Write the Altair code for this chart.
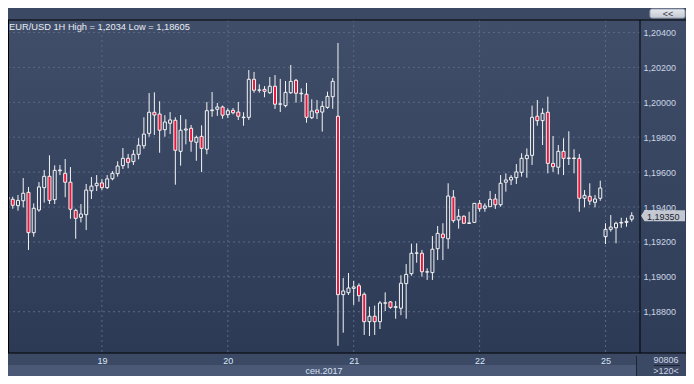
import altair as alt
import pandas as pd

# ---- data (EUR/USD, 1H candles, 18.09.2017 06:00 .. 25.09.2017 05:00) ----
opens = [1.19457, 1.19444, 1.19408, 1.19436, 1.19484, 1.19253, 1.19383, 1.19511, 1.19576, 1.19442,
         1.19608, 1.19593, 1.19542, 1.19381, 1.19341, 1.19356, 1.19493, 1.19522, 1.19538, 1.19511,
         1.19562, 1.19591, 1.19637, 1.19679, 1.19660, 1.19702, 1.19751, 1.19822, 1.19943, 1.19933,
         1.19843, 1.19880, 1.19897, 1.19719, 1.19841, 1.19851, 1.19771, 1.19805, 1.19731, 1.19952,
         1.19960, 1.19973, 1.19929, 1.19954, 1.19944, 1.19912, 1.19914, 1.20132, 1.20069, 1.20074,
         1.20055, 1.20092, 1.19989, 1.19981, 1.20055, 1.20126, 1.20052, 1.20046, 1.19912, 1.19956,
         1.19944, 1.19971, 1.20032, 1.19920, 1.18898, 1.18909, 1.18934, 1.18949, 1.18900, 1.18743,
         1.18774, 1.18743, 1.18849, 1.18856, 1.18825, 1.18820, 1.18961, 1.19018, 1.19135, 1.19135,
         1.19029, 1.19024, 1.19161, 1.19245, 1.19218, 1.19457, 1.19326, 1.19347, 1.19306, 1.19312,
         1.19421, 1.19393, 1.19402, 1.19446, 1.19413, 1.19542, 1.19555, 1.19568, 1.19599, 1.19677,
         1.19696, 1.19920, 1.19895, 1.19943, 1.19650, 1.19628, 1.19719, 1.19678, 1.19681, 1.19679,
         1.19450, 1.19461, 1.19427, 1.19450, 1.19230, 1.19272, 1.19281, 1.19308, 1.19312, 1.19330]
highs = [1.19470, 1.19459, 1.19469, 1.19566, 1.19515, 1.19421, 1.19543, 1.19612, 1.19696, 1.19639,
         1.19641, 1.19675, 1.19629, 1.19390, 1.19417, 1.19532, 1.19572, 1.19583, 1.19561, 1.19583,
         1.19606, 1.19662, 1.19738, 1.19704, 1.19727, 1.19795, 1.19914, 1.20053, 1.20057, 1.20006,
         1.19926, 1.19944, 1.19914, 1.19927, 1.19903, 1.19870, 1.19809, 1.19868, 1.20002, 1.20059,
         1.19996, 1.19981, 1.19966, 1.19967, 1.20002, 1.19943, 1.20185, 1.20174, 1.20103, 1.20093,
         1.20145, 1.20156, 1.20134, 1.20122, 1.20214, 1.20134, 1.20080, 1.20111, 1.20017, 1.20013,
         1.20007, 1.20061, 1.20139, 1.20340, 1.18993, 1.19022, 1.18976, 1.18963, 1.18911, 1.18829,
         1.18835, 1.18861, 1.18911, 1.18861, 1.18861, 1.19009, 1.19073, 1.19190, 1.19192, 1.19154,
         1.19049, 1.19234, 1.19291, 1.19307, 1.19536, 1.19497, 1.19389, 1.19352, 1.19373, 1.19423,
         1.19440, 1.19421, 1.19492, 1.19475, 1.19583, 1.19593, 1.19583, 1.19646, 1.19708, 1.19736,
         1.19981, 1.20013, 1.19966, 1.20032, 1.19807, 1.19755, 1.19794, 1.19834, 1.19731, 1.19704,
         1.19497, 1.19536, 1.19469, 1.19551, 1.19307, 1.19354, 1.19316, 1.19339, 1.19339, 1.19370]
lows = [1.19430, 1.19390, 1.19379, 1.19398, 1.19154, 1.19230, 1.19373, 1.19425, 1.19417, 1.19417,
        1.19583, 1.19456, 1.19333, 1.19218, 1.19312, 1.19268, 1.19446, 1.19492, 1.19497, 1.19503,
        1.19553, 1.19574, 1.19618, 1.19622, 1.19641, 1.19673, 1.19734, 1.19803, 1.19813, 1.19711,
        1.19803, 1.19818, 1.19528, 1.19637, 1.19759, 1.19717, 1.19665, 1.19600, 1.19702, 1.19917,
        1.19922, 1.19906, 1.19910, 1.19931, 1.19899, 1.19866, 1.19899, 1.20055, 1.20055, 1.20029,
        1.20048, 1.19962, 1.19944, 1.19971, 1.20048, 1.19998, 1.20002, 1.19883, 1.19904, 1.19904,
        1.19832, 1.19963, 1.19963, 1.18605, 1.18680, 1.18896, 1.18839, 1.18857, 1.18667, 1.18661,
        1.18667, 1.18701, 1.18804, 1.18817, 1.18760, 1.18780, 1.18760, 1.19006, 1.19081, 1.19001,
        1.18982, 1.18982, 1.19096, 1.19096, 1.19161, 1.19310, 1.19276, 1.19303, 1.19303, 1.19308,
        1.19373, 1.19373, 1.19400, 1.19389, 1.19402, 1.19488, 1.19526, 1.19532, 1.19574, 1.19568,
        1.19641, 1.19866, 1.19755, 1.19593, 1.19600, 1.19587, 1.19583, 1.19641, 1.19593, 1.19373,
        1.19398, 1.19412, 1.19398, 1.19436, 1.19188, 1.19259, 1.19192, 1.19281, 1.19287, 1.19316]
closes = [1.19444, 1.19410, 1.19438, 1.19479, 1.19253, 1.19393, 1.19515, 1.19576, 1.19438, 1.19610,
          1.19612, 1.19542, 1.19387, 1.19335, 1.19360, 1.19497, 1.19520, 1.19536, 1.19511, 1.19561,
          1.19593, 1.19635, 1.19679, 1.19656, 1.19702, 1.19754, 1.19818, 1.19943, 1.19927, 1.19840,
          1.19887, 1.19899, 1.19725, 1.19840, 1.19847, 1.19777, 1.19799, 1.19736, 1.19952, 1.19956,
          1.19973, 1.19926, 1.19952, 1.19940, 1.19920, 1.19915, 1.20132, 1.20069, 1.20071, 1.20063,
          1.20092, 1.19989, 1.19991, 1.20057, 1.20120, 1.20052, 1.20049, 1.19914, 1.19950, 1.19940,
          1.19977, 1.20034, 1.20120, 1.18898, 1.18919, 1.18936, 1.18942, 1.18892, 1.18743, 1.18774,
          1.18743, 1.18850, 1.18851, 1.18825, 1.18829, 1.18963, 1.19014, 1.19135, 1.19137, 1.19029,
          1.19027, 1.19158, 1.19249, 1.19224, 1.19463, 1.19322, 1.19347, 1.19307, 1.19309, 1.19421,
          1.19390, 1.19406, 1.19444, 1.19413, 1.19536, 1.19555, 1.19570, 1.19601, 1.19679, 1.19696,
          1.19914, 1.19895, 1.19937, 1.19650, 1.19631, 1.19719, 1.19679, 1.19681, 1.19678, 1.19450,
          1.19467, 1.19434, 1.19446, 1.19509, 1.19272, 1.19285, 1.19307, 1.19312, 1.19318, 1.19350]

day_tick_index = [18, 42, 66, 90, 114]
day_tick_labels = ["19", "20", "21", "22", "25"]
price_ticks = [1.188, 1.190, 1.192, 1.194, 1.196, 1.198, 1.200, 1.202, 1.204]
title_text = "EUR/USD 1H High = 1,2034 Low = 1,18605"
month_label = "сен.2017"
last_price = [1.19350]
last_price_label = ["1,19350"]
volume_label = "90806"
bars_label = ">120<"
button_label = "<<"

# ---- layout ----
W, H = 632, 333
PANEL = 46
x_scale = alt.Scale(domain=[1.05, 119.62], nice=False, zero=False)
y_scale = alt.Scale(domain=[1.185635, 1.204716], nice=False, zero=False)

FONT = "Liberation Sans"
RED = "#e8173d"
WHITE = "#f4f4f4"

expr = "''"
for idx, lab in reversed(list(zip(day_tick_index, day_tick_labels))):
    expr = f"datum.value == {idx} ? '{lab}' : {expr}"

X_AXIS = alt.Axis(values=day_tick_index, labelExpr=expr, orient="bottom", grid=False,
                  domain=False, ticks=False, labelPadding=3, labelFont=FONT, labelFontSize=9,
                  labelColor="#d8e6f6", title=None, zindex=1, labelFlush=False)
Y_AXIS = alt.Axis(values=price_ticks, labelExpr="replace(format(datum.value, '.5f'), '.', ',')",
                  orient="right", grid=False, domain=False, ticks=False, labelPadding=3,
                  labelFont=FONT, labelFontSize=9, labelColor="#cdd6e4", title=None, zindex=1)

df = pd.DataFrame({"i": list(range(len(opens))), "open": opens, "high": highs,
                   "low": lows, "close": closes})
df["top"] = df[["open", "close"]].max(axis=1)
df["bot"] = df[["open", "close"]].min(axis=1)
df["fillc"] = [RED if c < o else "transparent" for o, c in zip(opens, closes)]

one = pd.DataFrame({"k": [0]})

def grad(c0, c1):
    return alt.LinearGradient(gradient="linear", x1=0, x2=0, y1=0, y2=1,
                              stops=[alt.GradientStop(color=c0, offset=0),
                                     alt.GradientStop(color=c1, offset=1)])

plot_bg = alt.Chart(one).mark_rect(fill=grad("#404e6a", "#2c3a56")).encode(
    x=alt.value(0), x2=alt.value(W), y=alt.value(0), y2=alt.value(H))
panel_bg = alt.Chart(one).mark_rect(fill=grad("#3f4d69", "#2e3c58")).encode(
    x=alt.value(W), x2=alt.value(W + PANEL), y=alt.value(0), y2=alt.value(H))
month_bg = alt.Chart(one).mark_rect(fill="#4b5976").encode(
    x=alt.value(-1), x2=alt.value(628), y=alt.value(345), y2=alt.value(360))
sep_v = alt.Chart(one).mark_rule(color="#1c2434", strokeWidth=1).encode(
    x=alt.value(628.5), y=alt.value(336), y2=alt.value(357))
sep_h = alt.Chart(one).mark_rule(color="#1c2434", strokeWidth=1).encode(
    x=alt.value(646), x2=alt.value(672), y=alt.value(345.5))
button = alt.Chart(one).mark_rect(fill=grad("#e6e9ee", "#c3c9d2"), stroke="#9aa3b2",
                                  strokeWidth=1, cornerRadius=2).encode(
    x=alt.value(642), x2=alt.value(677), y=alt.value(-11), y2=alt.value(-2))
button_txt = alt.Chart(one).mark_text(text=button_label, font=FONT, fontSize=9, color="#334",
                                      align="center", baseline="middle").encode(
    x=alt.value(660), y=alt.value(-6.5))

hgrid = alt.Chart(pd.DataFrame({"p": price_ticks})).mark_rule(
    color="#5a6985", strokeWidth=1, strokeDash=[2, 3]).encode(
    y=alt.Y("p:Q", scale=y_scale, axis=Y_AXIS))
vgrid = alt.Chart(pd.DataFrame({"d": day_tick_index})).mark_rule(
    color="#5a6985", strokeWidth=1, strokeDash=[2, 3]).encode(
    x=alt.X("d:Q", scale=x_scale, axis=X_AXIS))

base = alt.Chart(df)
wick_up = base.mark_rule(color=WHITE, strokeWidth=1, clip=True).encode(
    x=alt.X("i:Q", scale=x_scale, axis=X_AXIS),
    y=alt.Y("high:Q", scale=y_scale, axis=Y_AXIS), y2="top:Q")
wick_dn = base.mark_rule(color=WHITE, strokeWidth=1, clip=True).encode(
    x=alt.X("i:Q", scale=x_scale, axis=X_AXIS),
    y=alt.Y("bot:Q", scale=y_scale, axis=Y_AXIS), y2="low:Q")
bodies = base.mark_bar(size=3, stroke=WHITE, strokeWidth=1, clip=True).encode(
    x=alt.X("i:Q", scale=x_scale, axis=X_AXIS),
    y=alt.Y("open:Q", scale=y_scale, axis=Y_AXIS), y2="close:Q",
    fill=alt.Fill("fillc:N", scale=None, legend=None))

tag_df = pd.DataFrame({"p": last_price, "t": last_price_label})
tag = alt.Chart(tag_df).mark_point(
    shape="M-1,0L-0.84,-0.25L1,-0.25L1,0.25L-0.84,0.25Z", size=44 * 44, filled=True,
    fill="#c4c9d1", opacity=1, strokeWidth=0).encode(
    x=alt.value(655), y=alt.Y("p:Q", scale=y_scale, axis=Y_AXIS))
tag_txt = alt.Chart(tag_df).mark_text(font=FONT, fontSize=9, color="#1b2435", align="left",
                                      baseline="middle", dy=1).encode(
    x=alt.value(639), y=alt.Y("p:Q", scale=y_scale, axis=Y_AXIS), text="t:N")

title = alt.Chart(one).mark_text(text=title_text, font=FONT, fontSize=9.3, color="#e8ecf2",
                                 align="left", baseline="alphabetic").encode(
    x=alt.value(1), y=alt.value(10))
month = alt.Chart(one).mark_text(text=month_label, font=FONT, fontSize=9, color="#d6e2f2",
                                 align="center", baseline="middle").encode(
    x=alt.value(316), y=alt.value(351))
vol = alt.Chart(one).mark_text(text=volume_label, font=FONT, fontSize=9, color="#cdd6e4",
                               align="center", baseline="middle").encode(
    x=alt.value(658), y=alt.value(339.5))
bars_txt = alt.Chart(one).mark_text(text=bars_label, font=FONT, fontSize=9, color="#cdd6e4",
                                    align="center", baseline="middle").encode(
    x=alt.value(658), y=alt.value(350.5))

border_top = alt.Chart(one).mark_rule(color="#000000", strokeWidth=1).encode(
    x=alt.value(0), x2=alt.value(W + PANEL), y=alt.value(0))
border_bot = alt.Chart(one).mark_rule(color="#000000", strokeWidth=1).encode(
    x=alt.value(0), x2=alt.value(W + PANEL), y=alt.value(H))
border_right = alt.Chart(one).mark_rule(color="#000000", strokeWidth=1).encode(
    x=alt.value(W), y=alt.value(0), y2=alt.value(H))
border_left = alt.Chart(one).mark_rule(color="#000000", strokeWidth=1).encode(
    x=alt.value(0.5), y=alt.value(0), y2=alt.value(H))

chart = alt.layer(
    plot_bg, panel_bg, month_bg, sep_v, sep_h, button, button_txt,
    hgrid, vgrid, wick_up, wick_dn, bodies, title,
    border_top, border_bot, border_right, border_left,
    tag, tag_txt, month, vol, bars_txt
).properties(
    width=W, height=H,
    padding={"left": 0, "top": 12, "right": PANEL, "bottom": 23},
    autosize=alt.AutoSizeParams(type="none"),
    background="#3c4965",
).configure_view(strokeWidth=0)

chart.save("out.html", embed_options={"renderer": "svg", "actions": False})
